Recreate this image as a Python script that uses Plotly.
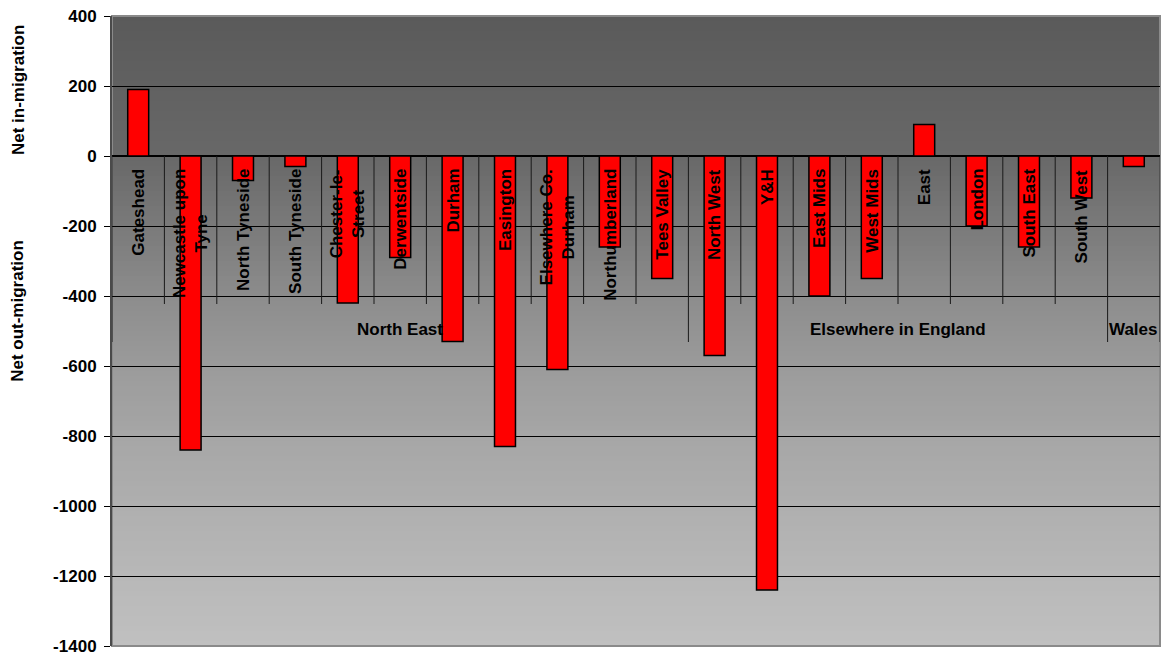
import numpy as np
import plotly.graph_objects as go

# ---- data ----
categories = ["Gateshead", "Newcastle upon Tyne", "North Tyneside", "South Tyneside",
              "Chester-le-Street", "Derwentside", "Durham", "Easington",
              "Elsewhere Co. Durham", "Northumberland", "Tees Valley",
              "North West", "Y&H", "East Mids", "West Mids", "East", "London",
              "South East", "South West", "Wales"]
tick_labels = ["Gateshead", "Newcastle upon<br>Tyne", "North Tyneside", "South Tyneside",
               "Chester-le-<br>Street", "Derwentside", "Durham", "Easington",
               "Elsewhere Co.<br>Durham", "Northumberland", "Tees Valley",
               "North West", "Y&H", "East Mids", "West Mids", "East", "London",
               "South East", "South West", ""]
net_migration = [190, -840, -70, -30, -420, -290, -530, -830, -610, -260, -350,
                 -570, -1240, -400, -350, 90, -200, -260, -120, -30]
groups = ["North East", "Elsewhere in England", "Wales"]
group_sizes = [11, 8, 1]
y_ticks = list(range(-1400, 401, 200))

FONT = "Arial, Liberation Sans, sans-serif"
TXT = dict(family=FONT, size=17, color="#000", weight="bold")


def bold(s):
    return "<b>" + s.replace("<br>", "</b><br><b>") + "</b>"


fig = go.Figure()
fig.add_trace(go.Bar(
    x=categories, y=net_migration,
    marker=dict(color="#ff0000", line=dict(color="#000000", width=1.5)),
    showlegend=False, hoverinfo="x+y",
))

shapes = []
# gradient background stripes (decorative)
stops_px = [0, 140, 210, 280, 350, 420, 490, 560, 630]
stops_val = [90, 104, 122, 140, 155, 166, 175, 184, 192]
n = 126
for i in range(n):
    mid = (i + 0.5) * 630 / n
    v = int(round(np.interp(mid, stops_px, stops_val)))
    c = f"rgb({v},{v},{v})"
    shapes.append(dict(type="rect", xref="x domain", yref="y domain",
                       x0=0, x1=1, y0=1 - (i + 1) / n - 0.001, y1=1 - i / n,
                       fillcolor=c, line=dict(width=0), layer="below"))
# plot area border
shapes.append(dict(type="rect", xref="x domain", yref="y domain", x0=0, x1=1, y0=0, y1=1,
                   line=dict(color="#8a8a8a", width=2), layer="below"))

# category separators
acc = 0
group_bounds = [-0.5]
for s in group_sizes:
    acc += s
    group_bounds.append(acc - 0.5)
for i in range(len(categories) + 1):
    b = i - 0.5
    length = -186 if b in group_bounds else -148
    shapes.append(dict(type="line", xref="x", yref="y", ysizemode="pixel", yanchor=0,
                       x0=b, x1=b, y0=0, y1=length,
                       line=dict(color="#1a1a1a", width=1), layer="above"))

annotations = []
for cat, lab in zip(categories, tick_labels):
    if not lab:
        continue
    annotations.append(dict(x=cat, y=0, xref="x", yref="y", text=bold(lab), textangle=-90,
                            showarrow=False, xanchor="center", yanchor="top", yshift=-11,
                            align="center", font=TXT))
start = 0
for g, s in zip(groups, group_sizes):
    center = (start + start + s - 1) / 2
    annotations.append(dict(x=center, y=0, xref="x", yref="y", text=bold(g), showarrow=False,
                            xanchor="center", yanchor="middle", yshift=-173, font=TXT))
    start += s
# axis titles
annotations.append(dict(x=0, y=0.8825, xref="paper", yref="paper", xshift=-94,
                        text=bold("Net in-migration"), textangle=-90, showarrow=False,
                        xanchor="center", yanchor="middle", font=TXT))
annotations.append(dict(x=0, y=0.532, xref="paper", yref="paper", xshift=-94,
                        text=bold("Net out-migration"), textangle=-90, showarrow=False,
                        xanchor="center", yanchor="middle", font=TXT))

fig.update_layout(
    width=1171, height=655,
    margin=dict(l=112, r=11, t=16, b=9, autoexpand=False),
    paper_bgcolor="white", plot_bgcolor="rgba(0,0,0,0)",
    bargap=0.6,
    shapes=shapes, annotations=annotations,
    xaxis=dict(type="category", range=[-0.5, len(categories) - 0.5],
               showticklabels=False, showgrid=False, ticks="", zeroline=False,
               showline=False, fixedrange=True, automargin=False),
    yaxis=dict(range=[-1400, 400], tickvals=y_ticks, ticktext=[bold(str(v)) for v in y_ticks],
               showgrid=True, gridcolor="#000000", gridwidth=1,
               zeroline=True, zerolinecolor="#000000", zerolinewidth=1.5,
               showline=True, linecolor="#4a4a4a", linewidth=2,
               ticks="outside", ticklen=6, tickcolor="#000", tickwidth=1,
               ticklabelstandoff=4, ticklabeloverflow="allow", automargin=False,
               tickfont=TXT, fixedrange=True),
)

fig.write_html("out.html")
